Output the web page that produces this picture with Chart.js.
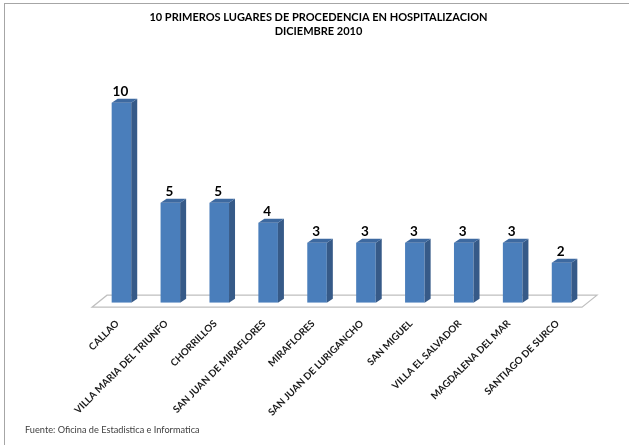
<!DOCTYPE html>
<html>
<head>
<meta charset="utf-8">
<script src="https://cdn.jsdelivr.net/npm/chart.js@4/dist/chart.umd.min.js"></script>
<style>
  html, body { margin: 0; padding: 0; background: #fff; }
  #wrap { position: relative; width: 629px; height: 445px; }
  #frame { position: absolute; left: 4px; top: 3px; right: 0; bottom: 0;
           border-top: 1px solid #a6a6a6; border-left: 1px solid #a6a6a6; pointer-events: none; }
  #fuente { position: absolute; left: 25px; top: 424px; font: 9.2px Lato, sans-serif; color: #404040; }
</style>
</head>
<body>
<div id="wrap">
  <canvas id="chart" width="629" height="445"></canvas>
  <div id="frame"></div>
  <div id="fuente">Fuente: Oficina de Estadistica e Informatica</div>
</div>
<script>
const lugares = [
    "CALLAO",
    "VILLA MARIA DEL TRIUNFO",
    "CHORRILLOS",
    "SAN JUAN DE MIRAFLORES",
    "MIRAFLORES",
    "SAN JUAN DE LURIGANCHO",
    "SAN MIGUEL",
    "VILLA EL SALVADOR",
    "MAGDALENA DEL MAR",
    "SANTIAGO DE SURCO"
];
const pacientes = [10, 5, 5, 4, 3, 3, 3, 3, 3, 2];
const titulo = ["10 PRIMEROS LUGARES DE PROCEDENCIA EN HOSPITALIZACION", "DICIEMBRE 2010"];

// profundidad de las barras y del piso
const dx = 6, dy = 4;

const piso3d = {
    id: "piso3d",
    beforeDatasetsDraw(chart) {
        const ctx = chart.ctx;
        const xs = chart.scales.x;
        const y0 = chart.scales.y.getPixelForValue(0);
        ctx.save();
        ctx.beginPath();
        ctx.moveTo(xs.left - 5, y0 + 4.5);
        ctx.lineTo(xs.right - 4, y0 + 4.5);
        ctx.lineTo(xs.right + 11, y0 - 7.5);
        ctx.lineTo(xs.left + 10, y0 - 7.5);
        ctx.closePath();
        ctx.fillStyle = "#ffffff";
        ctx.fill();
        ctx.strokeStyle = "#bfbfbf";
        ctx.lineWidth = 1.2;
        ctx.stroke();
        ctx.restore();
    }
};

const barras3d = {
    id: "barras3d",
    afterDatasetsDraw(chart) {
        const ctx = chart.ctx;
        const meta = chart.getDatasetMeta(0);
        ctx.save();
        meta.data.forEach((bar, i) => {
            const p = bar.getProps(["x", "y", "base", "width"], true);
            const l = p.x - p.width / 2, r = p.x + p.width / 2;
            // lado
            ctx.beginPath();
            ctx.moveTo(r, p.y);
            ctx.lineTo(r + dx, p.y - dy);
            ctx.lineTo(r + dx, p.base - dy);
            ctx.lineTo(r, p.base);
            ctx.closePath();
            ctx.fillStyle = "#365a88";
            ctx.fill();
            // tapa
            ctx.beginPath();
            ctx.moveTo(l, p.y);
            ctx.lineTo(l + dx, p.y - dy);
            ctx.lineTo(r + dx, p.y - dy);
            ctx.lineTo(r, p.y);
            ctx.closePath();
            ctx.fillStyle = "#3d69a0";
            ctx.fill();
            // valor
            ctx.fillStyle = "#000000";
            ctx.font = "bold 13.5px Lato, sans-serif";
            ctx.textAlign = "center";
            ctx.textBaseline = "alphabetic";
            ctx.fillText(String(pacientes[i]), p.x - 1, p.y - dy - 3);
        });
        ctx.restore();
    }
};

const ejeOculto = (ancho) => ({
    display: true,
    min: 0,
    max: 12,
    grid: { display: false, drawTicks: false },
    border: { display: false },
    ticks: { display: false },
    afterFit: (axis) => { axis.width = ancho; }
});

new Chart(document.getElementById("chart"), {
    type: "bar",
    data: {
        labels: lugares,
        datasets: [{
            data: pacientes,
            backgroundColor: "#4a7ebb",
            borderWidth: 0,
            barPercentage: 0.8,
            categoryPercentage: 0.5
        }]
    },
    options: {
        responsive: false,
        animation: false,
        layout: { padding: { left: 8, right: 0, top: 0, bottom: 0 } },
        scales: {
            x: {
                grid: { display: false, drawTicks: false },
                border: { display: false },
                ticks: {
                    autoSkip: false,
                    minRotation: 45,
                    maxRotation: 45,
                    padding: 15,
                    labelOffset: -4,
                    color: "#1a1a1a",
                    font: { family: "Lato", size: 9.8, weight: "bold" }
                },
                afterFit: (axis) => { axis.height = 142.3; }
            },
            y: Object.assign(ejeOculto(89), { position: "left" }),
            y2: Object.assign(ejeOculto(43), { position: "right" })
        },
        plugins: {
            legend: { display: false },
            tooltip: { enabled: false },
            title: {
                display: true,
                text: titulo,
                color: "#000000",
                font: { family: "Lato", size: 11, weight: "bold", lineHeight: 1.3 },
                padding: { top: 10, bottom: 24.1 }
            }
        }
    },
    plugins: [piso3d, barras3d]
});
</script>
</body>
</html>
